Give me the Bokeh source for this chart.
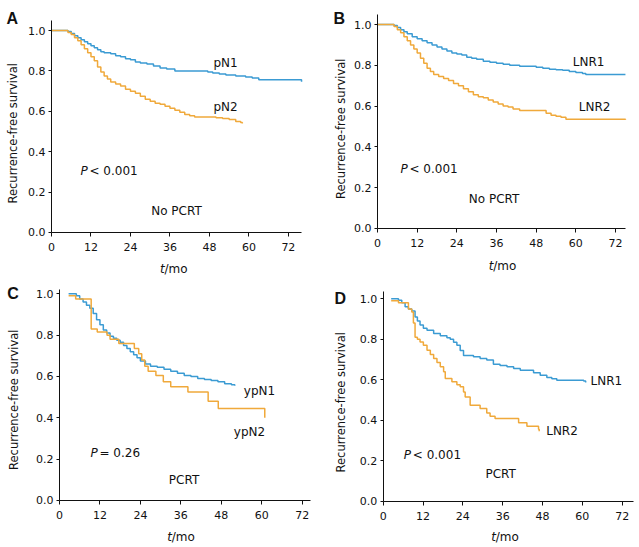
import math
from bokeh.plotting import figure
from bokeh.layouts import column, row
from bokeh.models import Range1d, FixedTicker, PrintfTickFormatter, Label
from bokeh.embed import file_html
from bokeh.resources import INLINE

# ---------------- data ----------------
x_ticks = [0, 12, 24, 36, 48, 60, 72]
y_ticks = [0.0, 0.2, 0.4, 0.6, 0.8, 1.0]

A_pN1_t = [0, 5, 6, 7, 8, 9, 10, 11, 12, 13, 14, 15, 16, 18, 19.5, 21, 22.5, 24, 25.5, 27, 29, 31, 33, 35, 37.5, 47.5, 49, 51, 53, 56, 59, 61, 63, 75.5, 76]
A_pN1_s = [1.0, 0.995, 0.985, 0.975, 0.965, 0.955, 0.945, 0.935, 0.925, 0.915, 0.905, 0.895, 0.89, 0.885, 0.875, 0.87, 0.86, 0.855, 0.845, 0.84, 0.835, 0.825, 0.815, 0.81, 0.80, 0.795, 0.79, 0.785, 0.78, 0.775, 0.77, 0.765, 0.756, 0.756, 0.746]
A_pN2_t = [0, 5, 6, 7, 8, 9, 10, 11, 12, 13, 14, 15, 16, 17, 18, 19.5, 21, 22.5, 24, 25.5, 27, 28.5, 30, 31.5, 33, 34.5, 36, 37.5, 39, 40.5, 42, 43.5, 50, 52, 54, 56, 57.5, 58]
A_pN2_s = [1.0, 0.99, 0.98, 0.965, 0.95, 0.93, 0.91, 0.89, 0.87, 0.85, 0.82, 0.795, 0.775, 0.76, 0.745, 0.735, 0.725, 0.71, 0.70, 0.69, 0.675, 0.66, 0.65, 0.64, 0.635, 0.625, 0.615, 0.605, 0.595, 0.585, 0.578, 0.572, 0.568, 0.565, 0.56, 0.55, 0.545, 0.54]

B_LNR1_t = [0, 5, 6, 7, 8, 9, 10.5, 12, 13.5, 15, 16.5, 18, 19.5, 21, 22.5, 24, 25.5, 27, 28.5, 30, 32, 34, 36, 38, 40, 43, 48, 50, 52, 54, 56, 58, 60, 62, 63, 75]
B_LNR1_s = [1.0, 0.995, 0.985, 0.975, 0.965, 0.955, 0.94, 0.93, 0.92, 0.91, 0.90, 0.89, 0.88, 0.87, 0.86, 0.855, 0.85, 0.84, 0.835, 0.83, 0.82, 0.815, 0.81, 0.805, 0.80, 0.795, 0.79, 0.785, 0.78, 0.778, 0.775, 0.77, 0.765, 0.76, 0.755, 0.755]
B_LNR2_t = [0, 5, 6, 7, 8, 9, 10, 11, 12, 13, 14, 15, 16, 17, 18.5, 20, 21.5, 23, 24.5, 26, 27.5, 29, 30.5, 32, 33.5, 35, 36.5, 38, 39.5, 41, 43, 51, 52.5, 54, 55.5, 57, 75]
B_LNR2_s = [1.0, 0.99, 0.975, 0.96, 0.94, 0.92, 0.90, 0.88, 0.86, 0.835, 0.81, 0.785, 0.77, 0.755, 0.745, 0.735, 0.725, 0.71, 0.70, 0.685, 0.67, 0.655, 0.645, 0.64, 0.63, 0.62, 0.61, 0.60, 0.595, 0.585, 0.578, 0.565, 0.555, 0.55, 0.545, 0.535, 0.533]

C_ypN1_t = [2.7, 5, 6, 7, 8, 9, 10, 11, 12, 13, 14, 15, 16, 17, 18, 19, 20, 21, 22, 23, 24, 25.5, 27, 29, 31, 33, 35, 37, 39, 41, 43, 45, 47, 49, 51, 52]
C_ypN1_s = [1.0, 0.99, 0.975, 0.96, 0.945, 0.93, 0.905, 0.875, 0.85, 0.825, 0.81, 0.795, 0.785, 0.775, 0.765, 0.75, 0.735, 0.72, 0.705, 0.69, 0.675, 0.66, 0.65, 0.645, 0.635, 0.625, 0.615, 0.605, 0.60, 0.59, 0.585, 0.58, 0.575, 0.565, 0.56, 0.555]
C_ypN2_t = [2.7, 4.8, 9.4, 11.2, 14.1, 15.0, 17.6, 22.2, 23.5, 24.4, 25.3, 26.3, 28.6, 30.8, 33.0, 38.1, 44.1, 47.1, 60.9, 60.9]
C_ypN2_s = [0.99, 0.975, 0.83, 0.815, 0.80, 0.78, 0.76, 0.735, 0.71, 0.68, 0.65, 0.625, 0.605, 0.575, 0.55, 0.525, 0.48, 0.445, 0.445, 0.40]

D_LNR1_t = [2.4, 4.6, 5.6, 6.6, 7.6, 8.6, 9.6, 10.3, 11.1, 12.1, 13.2, 15.2, 17.2, 19.2, 20.2, 21.2, 22.2, 23.2, 24.2, 27.2, 29.2, 31.2, 33.2, 35.2, 37.3, 39.3, 41.3, 45.3, 47.3, 49.3, 50.8, 52.3, 60.4, 61]
D_LNR1_s = [1.0, 0.993, 0.98, 0.96, 0.95, 0.94, 0.91, 0.89, 0.87, 0.855, 0.845, 0.828, 0.817, 0.808, 0.80, 0.785, 0.77, 0.745, 0.72, 0.713, 0.705, 0.697, 0.677, 0.67, 0.664, 0.655, 0.647, 0.634, 0.622, 0.611, 0.605, 0.598, 0.594, 0.586]
D_LNR2_t = [2.4, 4.6, 7.6, 8.6, 9.1, 9.6, 10.3, 11.1, 12.1, 13.2, 14.2, 15.2, 16.2, 17.2, 18.2, 18.7, 20.7, 22.2, 23.2, 24.2, 24.7, 26.2, 29.2, 31.2, 32.2, 33.7, 40.8, 43.3, 46.8, 47.0]
D_LNR2_s = [0.99, 0.98, 0.95, 0.935, 0.88, 0.81, 0.80, 0.787, 0.77, 0.746, 0.725, 0.705, 0.685, 0.664, 0.64, 0.606, 0.59, 0.575, 0.565, 0.54, 0.515, 0.474, 0.458, 0.436, 0.42, 0.409, 0.387, 0.37, 0.355, 0.345]

BLUE = "#3b9bd3"
ORANGE = "#f0a93b"
FONT = "DejaVu Sans"
INK = "#111111"


def lab(p, x, y, text, size="12px", style="normal", align="left", angle=0.0, font=FONT):
    p.add_layout(Label(x=x, y=y, x_units="screen", y_units="screen", text=text,
                       text_font=font, text_font_size=size, text_font_style=style,
                       text_align=align, text_baseline="middle", angle=angle,
                       text_color=INK))


def panel(w, h, xr, yr, xb, yb, curves, letter, letter_xy, ylab_xy, t_xy,
          names, p_xy, p_text, group, group_xy):
    p = figure(width=w, height=h, x_range=Range1d(*xr), y_range=Range1d(*yr),
               output_backend="svg", toolbar_location=None,
               min_border_left=0, min_border_right=0,
               min_border_top=0, min_border_bottom=0)
    p.outline_line_color = None
    p.grid.visible = False
    p.background_fill_color = "white"
    p.border_fill_color = "white"
    p.xaxis.fixed_location = 0
    p.yaxis.fixed_location = 0
    p.xaxis.bounds = xb
    p.yaxis.bounds = yb
    for ax in (p.xaxis[0], p.yaxis[0]):
        ax.axis_line_color = INK
        ax.axis_line_width = 1
        ax.major_tick_line_color = INK
        ax.major_tick_in = 0
        ax.minor_tick_line_color = None
        ax.major_label_text_font = FONT
        ax.major_label_text_font_size = "11px"
        ax.major_label_text_color = INK
    p.xaxis.ticker = FixedTicker(ticks=x_ticks)
    p.yaxis.ticker = FixedTicker(ticks=y_ticks)
    p.yaxis.formatter = PrintfTickFormatter(format="%.1f")
    p.xaxis.major_tick_out = 4
    p.yaxis.major_tick_out = 3
    p.xaxis.major_label_standoff = 7
    p.yaxis.major_label_standoff = 3
    for (t, s, c) in curves:
        p.step(t, s, mode="after", line_color=c, line_width=1.5)
    lab(p, letter_xy[0], letter_xy[1], letter, size="16px", style="bold", font="Liberation Sans")
    lab(p, ylab_xy[0], ylab_xy[1], "Recurrence-free survival", size="11.5px", align="center", angle=math.pi / 2)
    lab(p, t_xy[0], t_xy[1], "t", style="italic")
    lab(p, t_xy[0] + 4.5, t_xy[1], "/mo")
    for (nm, nx, ny) in names:
        lab(p, nx, ny, nm)
    lab(p, p_xy[0], p_xy[1], "P", style="italic")
    lab(p, p_xy[0] + 9, p_xy[1], p_text)
    lab(p, group_xy[0], group_xy[1], group)
    return p


pA = panel(320, 275, (-15.5, 81.76), (-0.213, 1.149), (0, 76), (0, 1.05),
           [(A_pN1_t, A_pN1_s, BLUE), (A_pN2_t, A_pN2_s, ORANGE)],
           "A", (6, 257), (12.7, 142.2), (159.5, 7),
           [("pN1", 213, 213), ("pN2", 213, 168.3)], (80, 105), "< 0.001",
           "No PCRT", (150.7, 64.3))

pB = panel(319, 275, (-17.24, 79.25), (-0.232, 1.118), (0, 75), (0, 1.05),
           [(B_LNR1_t, B_LNR1_s, BLUE), (B_LNR2_t, B_LNR2_s, ORANGE)],
           "B", (13, 257.5), (20.7, 146.7), (168.3, 10),
           [("LNR1", 252.3, 214), ("LNR2", 258.3, 169)], (80, 106.7), "< 0.001",
           "No PCRT", (148.3, 76.7))

pC = panel(320, 272, (-17.5, 77.43), (-0.2274, 1.0885), (0, 74.5), (0, 1.02),
           [(C_ypN1_t, C_ypN1_s, BLUE), (C_ypN2_t, C_ypN2_s, ORANGE)],
           "C", (6.7, 254.5), (13.3, 147.8), (166.7, 10.3),
           [("ypN1", 243.3, 157), ("ypN2", 233.3, 115.3)], (90, 94.7), "= 0.26",
           "PCRT", (168.3, 68))

pD = panel(319, 272, (-18.89, 77.22), (-0.2288, 1.115), (0, 75.3), (0, 1.035),
           [(D_LNR1_t, D_LNR1_s, BLUE), (D_LNR2_t, D_LNR2_s, ORANGE)],
           "D", (14, 248.7), (20.7, 145.3), (170.7, 10.3),
           [("LNR1", 270, 167), ("LNR2", 225.7, 116.3)], (83.3, 93), "< 0.001",
           "PCRT", (165, 73.7))

layout = column(row(pA, pB, spacing=0), row(pC, pD, spacing=0), spacing=0)

open("out.html", "w").write(file_html(layout, INLINE))
